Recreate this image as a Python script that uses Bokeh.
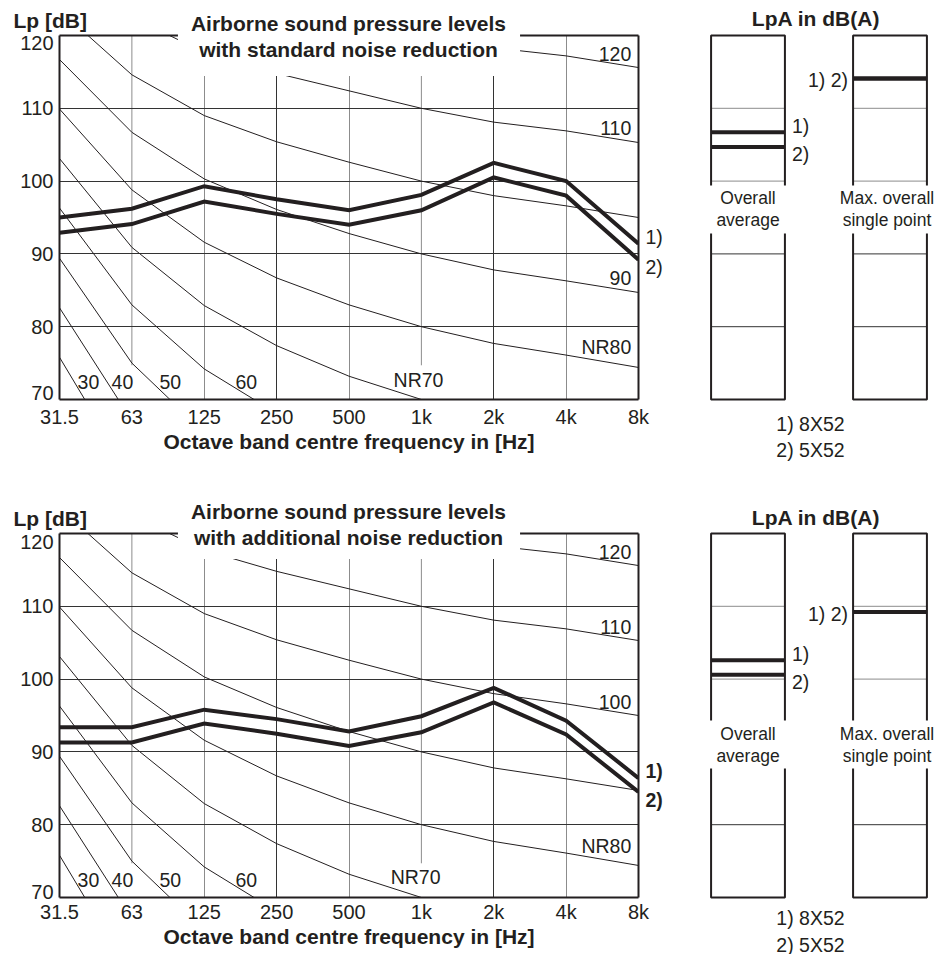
from bokeh.plotting import figure
from bokeh.models import Range1d, FixedTicker, LinearAxis, Label, Grid
from bokeh.layouts import column, row
from bokeh.embed import file_html
from bokeh.resources import INLINE
from bokeh.core.properties import value

# ---------------- data ----------------
freq_labels = ["31.5", "63", "125", "250", "500", "1k", "2k", "4k", "8k"]
y_ticks = [70, 80, 90, 100, 110, 120]

# octave band levels Lp [dB]
std_8x52 = [95.0, 96.2, 99.3, 97.5, 96.0, 98.1, 102.5, 100.0, 91.4]
std_5x52 = [92.9, 94.1, 97.2, 95.5, 94.0, 96.0, 100.5, 98.0, 89.2]
add_8x52 = [93.4, 93.4, 95.8, 94.5, 92.8, 94.9, 98.8, 94.3, 86.4]
add_5x52 = [91.3, 91.3, 93.9, 92.5, 90.8, 92.7, 96.8, 92.4, 84.5]

# LpA in dB(A): [1) 8X52, 2) 5X52]
lpa_avg_std = [106.7, 104.7]
lpa_max_std = [114.1, 114.1]
lpa_avg_add = [102.6, 100.6]
lpa_max_add = [109.2, 109.2]

# NR curves (31.5 ... 8k)
nr30 = [75.8, 59.2, 48.1, 40.0, 34.0, 30.0, 26.9, 24.7, 22.9]
nr40 = [82.6, 67.1, 56.8, 49.4, 43.8, 40.0, 37.1, 34.9, 33.2]
nr50 = [89.4, 75.0, 65.5, 58.8, 53.6, 50.0, 47.2, 45.2, 43.5]
nr60 = [96.3, 83.0, 74.2, 68.1, 63.4, 60.0, 57.4, 55.5, 53.8]
nr70 = [103.1, 90.9, 82.9, 77.4, 73.2, 70.0, 67.5, 65.8, 64.1]
nr80 = [109.9, 98.8, 91.6, 86.7, 83.0, 80.0, 77.7, 76.1, 74.4]
nr90 = [116.7, 106.7, 100.3, 96.1, 92.8, 90.0, 87.8, 86.3, 84.7]
nr100 = [123.5, 114.6, 109.0, 105.4, 102.6, 100.0, 98.0, 96.6, 95.0]
nr110 = [130.3, 122.5, 117.7, 114.8, 112.4, 110.0, 108.1, 106.9, 105.3]
nr120 = [137.1, 130.4, 126.4, 124.1, 122.2, 120.0, 118.3, 117.2, 115.6]
nr_curves = [nr30, nr40, nr50, nr60, nr70, nr80, nr90, nr100, nr110, nr120]

variant_labels = ["1) 8X52", "2) 5X52"]

# ---------------- style ----------------
FONT = "Liberation Sans"
INK = "#231f20"
DARK = "#333333"
GREY = "#8c8c8c"
Y0, Y1 = 70, 120
P_W = 690
Q_W = 254


def lab(fig, text, x, y, size="19.5px", align="center", baseline="middle",
        xo=0, yo=0, bold=False, **kw):
    fig.add_layout(Label(x=x, y=y, text=text, x_offset=xo, y_offset=yo,
                         text_align=align, text_baseline=baseline,
                         text_font=FONT, text_font_size=size,
                         text_font_style="bold" if bold else "normal",
                         text_color=INK, **kw))


def otext(fig, text, x, y, size="19.5px", align="center", xo=0, yo=0,
          bold=False, **kw):
    # y offset for glyphs: positive = down
    fig.text(x=[x], y=[y], text=[text], x_offset=xo, y_offset=yo,
             text_align=align, text_baseline="middle",
             text_font=value(FONT), text_font_size=size,
             text_font_style="bold" if bold else "normal",
             text_color=INK, level="overlay", **kw)


def main_plot(title, s1, s2, height, btop, bbot, cfg):
    xs = list(range(len(freq_labels)))
    p = figure(width=P_W, height=height,
               x_range=Range1d(xs[0], xs[-1]), y_range=Range1d(Y0, Y1),
               output_backend="svg", toolbar_location=None,
               min_border_left=59, min_border_right=52,
               min_border_top=btop, min_border_bottom=bbot,
               outline_line_color=None, background_fill_color="white")

    xa = p.xaxis[0]
    xa.ticker = FixedTicker(ticks=xs)
    xa.major_label_overrides = {i: s for i, s in enumerate(freq_labels)}
    xa.axis_label = "Octave band centre frequency in [Hz]"
    xa.axis_label_text_font = FONT
    xa.axis_label_text_font_size = "21px"
    xa.axis_label_text_font_style = "bold"
    xa.axis_label_text_color = INK
    xa.major_label_standoff = cfg["xstand"]
    xa.axis_label_standoff = cfg["xlabstand"]
    ya = p.yaxis[0]
    ya.ticker = FixedTicker(ticks=y_ticks)
    ya.major_label_overrides = {y_ticks[0]: "", y_ticks[-1]: ""}
    ya.major_label_standoff = 6
    for ax in (xa, ya):
        ax.major_label_text_font = FONT
        ax.major_label_text_font_size = "20px"
        ax.major_label_text_color = INK
        ax.major_tick_out = 0
        ax.major_tick_in = 0
        ax.minor_tick_out = 0
        ax.minor_tick_in = 0
        ax.axis_line_width = 2
        ax.axis_line_color = INK
    for place in ("right", "above"):
        b = LinearAxis(ticker=FixedTicker(ticks=[]), axis_line_width=2,
                       axis_line_color=INK, major_tick_out=0, major_tick_in=0,
                       minor_tick_out=0, minor_tick_in=0)
        p.add_layout(b, place)
    # end tick labels nudged inward
    otext(p, str(y_ticks[-1]), xs[0], y_ticks[-1], size="20px", align="right",
          xo=-6, yo=cfg["top_tick_off"])
    otext(p, str(y_ticks[0]), xs[0], y_ticks[0], size="20px", align="right",
          xo=-6, yo=cfg["bot_tick_off"])

    # grids
    p.ygrid[0].ticker = FixedTicker(ticks=y_ticks[1:-1])
    p.ygrid[0].grid_line_color = DARK
    p.xgrid[0].ticker = FixedTicker(ticks=[2, 4, 7])
    p.xgrid[0].grid_line_color = GREY
    p.add_layout(Grid(dimension=0, ticker=FixedTicker(ticks=[3, 6]),
                      grid_line_color=DARK))
    short = [1, 5]
    p.segment(x0=short, x1=short, y0=[74.7] * 2, y1=[Y1] * 2,
              line_color=GREY, line_width=1, level="underlay")

    # NR curves
    for c in nr_curves:
        p.line(xs, c, line_color=INK, line_width=1)
    for t, x, y, al in cfg["nr_labels"]:
        lab(p, t, x, y, align=al)

    # measured spectra
    for s in (s1, s2):
        p.line(xs, s, line_color=INK, line_width=4, line_join="miter")
    otext(p, "1)", xs[-1], s1[-1], align="left", xo=7, yo=cfg["l1"], bold=cfg["boldlab"])
    otext(p, "2)", xs[-1], s2[-1], align="left", xo=7, yo=cfg["l2"], bold=cfg["boldlab"])

    # axis caption and title
    otext(p, "Lp [dB]", xs[0], Y1, size="21px", align="left", xo=-46, yo=-15, bold=True)
    otext(p, title, 4, Y1, size="21px", bold=True, yo=cfg["title_yo"],
          background_fill_color="white", text_line_height=1.12,
          padding=dict(left=13, right=14, top=14, bottom=cfg["title_pad"]))
    return p


def lpa_plot(avg, mx, height, btop, bbot, cfg):
    unit = 142.0
    x0px = 57.5
    q = figure(width=Q_W, height=height,
               x_range=Range1d(-x0px / unit, (Q_W - x0px) / unit),
               y_range=Range1d(Y0, Y1),
               x_axis_type=None, y_axis_type=None,
               output_backend="svg", toolbar_location=None,
               min_border_left=0, min_border_right=0,
               min_border_top=btop, min_border_bottom=bbot,
               outline_line_color=None)
    q.grid.visible = False
    bx = [0, 1]
    hw = 0.26
    for lvl in y_ticks[1:-1]:
        col = GREY if lvl >= 100 else DARK
        q.segment(x0=[b - hw for b in bx], x1=[b + hw for b in bx],
                  y0=[lvl] * 2, y1=[lvl] * 2, line_color=col, line_width=1)
    for v in avg:
        q.segment(x0=[bx[0] - hw], x1=[bx[0] + hw], y0=[v], y1=[v],
                  line_color=INK, line_width=4)
    for v in mx:
        q.segment(x0=[bx[1] - hw], x1=[bx[1] + hw], y0=[v], y1=[v],
                  line_color=INK, line_width=4)
    q.quad(left=[b - hw for b in bx], right=[b + hw for b in bx],
           bottom=[Y0] * 2, top=[Y1] * 2, fill_color=None,
           line_color=INK, line_width=2, level="overlay")
    lab(q, "1)", bx[0] + hw, avg[0], align="left", xo=7, yo=6)
    lab(q, "2)", bx[0] + hw, avg[1], align="left", xo=7, yo=-7)
    lab(q, "1) 2)", bx[1] - hw, mx[0], align="right", xo=-5, yo=-2)
    otext(q, "Overall\naverage", bx[0], cfg["cap_y"], size="17.5px",
          text_line_height=1.1, background_fill_color="white",
          padding=dict(left=8, right=8, top=3, bottom=3))
    otext(q, "Max. overall\nsingle point", bx[1], cfg["cap_y"], size="17.5px",
          xo=-3, text_line_height=1.1, background_fill_color="white",
          padding=dict(left=3, right=3, top=3, bottom=3))
    otext(q, "LpA in dB(A)", 0.5, Y1, size="21px", bold=True, xo=-3, yo=cfg["head_yo"])
    otext(q, variant_labels[0], 0.44, Y0, yo=cfg["leg1"])
    otext(q, variant_labels[1], 0.44, Y0, yo=cfg["leg2"])
    return q


nr_labels_std = [("30", 0.40, 72.4, "center"), ("40", 0.87, 72.4, "center"),
                 ("50", 1.53, 72.4, "center"), ("60", 2.58, 72.4, "center"),
                 ("NR70", 4.96, 72.7, "center"), ("NR80", 7.9, 77.2, "right"),
                 ("90", 7.9, 86.7, "right"), ("110", 7.9, 107.3, "right"),
                 ("120", 7.9, 117.5, "right")]
nr_labels_add = [("30", 0.40, 72.4, "center"), ("40", 0.87, 72.4, "center"),
                 ("50", 1.53, 72.4, "center"), ("60", 2.58, 72.4, "center"),
                 ("NR70", 4.92, 72.8, "center"), ("NR80", 7.9, 77.1, "right"),
                 ("100", 7.9, 96.8, "right"), ("110", 7.9, 107.2, "right"),
                 ("120", 7.9, 117.4, "right")]

cfg1 = dict(xstand=6, xlabstand=-1, top_tick_off=7.7, bot_tick_off=-6.3,
            nr_labels=nr_labels_std, l1=-7, l2=7, boldlab=False,
            title_yo=1.5, title_pad=15)
cfg2 = dict(xstand=3, xlabstand=-1, top_tick_off=8.7, bot_tick_off=-5.3,
            nr_labels=nr_labels_add, l1=-7, l2=8, boldlab=True,
            title_yo=-11, title_pad=10)

H1, T1, B1 = 466, 35, 67
H2, T2, B2 = 488, 67, 57

p1 = main_plot("Airborne sound pressure levels\nwith standard noise reduction",
               std_8x52, std_5x52, H1, T1, B1, cfg1)
q1 = lpa_plot(lpa_avg_std, lpa_max_std, H1, T1, B1,
              dict(cap_y=96.1, head_yo=-17, leg1=24, leg2=50))
p2 = main_plot("Airborne sound pressure levels\nwith additional noise reduction",
               add_8x52, add_5x52, H2, T2, B2, cfg2)
q2 = lpa_plot(lpa_avg_add, lpa_max_add, H2, T2, B2,
              dict(cap_y=91.0, head_yo=-16, leg1=20, leg2=47))

layout = column(row(p1, q1), row(p2, q2))
open("out.html", "w").write(file_html(layout, INLINE))
